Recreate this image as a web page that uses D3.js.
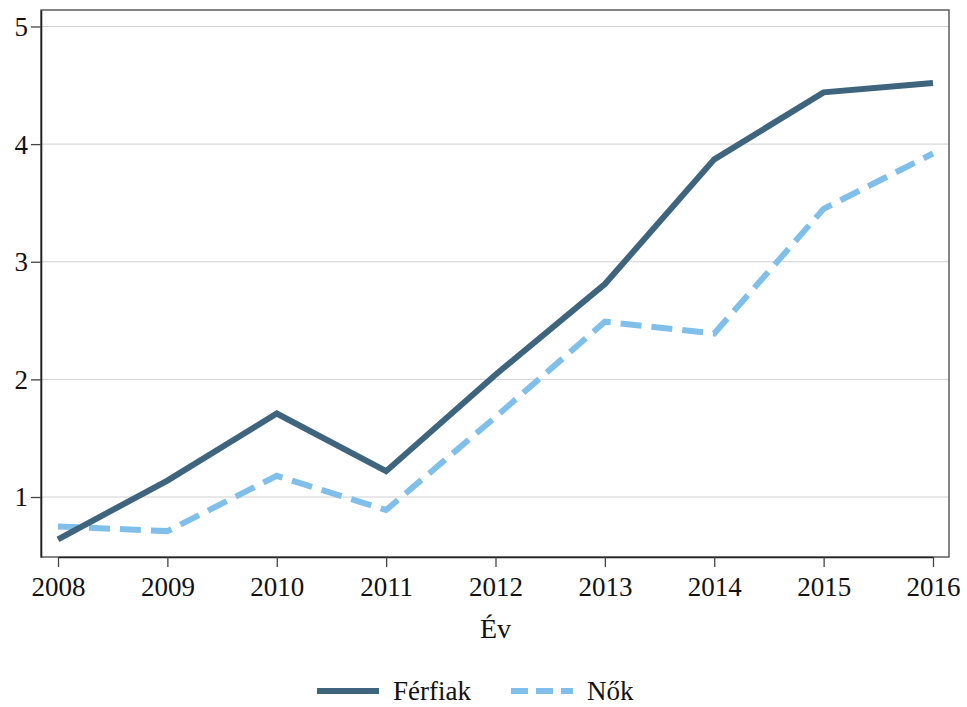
<!DOCTYPE html>
<html>
<head>
<meta charset="utf-8">
<script src="https://cdnjs.cloudflare.com/ajax/libs/d3/7.8.5/d3.min.js"></script>
<style>
  body { margin: 0; background: #fff; }
  svg text { font-family: "Liberation Serif", "Times New Roman", Times, serif; fill: #111; }
</style>
</head>
<body>
<div id="chart"></div>
<script>
// data
var years = [2008, 2009, 2010, 2011, 2012, 2013, 2014, 2015, 2016];
var ferfiak = [0.64, 1.14, 1.71, 1.22, 2.04, 2.81, 3.87, 4.44, 4.52];
var nok = [0.75, 0.71, 1.18, 0.89, 1.68, 2.49, 2.39, 3.45, 3.92];
var yTicks = [1, 2, 3, 4, 5];

var W = 967, H = 707;
var margin = { top: 10, right: 18, bottom: 150, left: 41 };
var width = W - margin.left - margin.right,
    height = 557 - margin.top;
var serif = "'Liberation Serif', 'Times New Roman', Times, serif";

var svg = d3.select("#chart").append("svg")
    .attr("width", W).attr("height", H);
var g = svg.append("g")
    .attr("transform", "translate(" + margin.left + "," + margin.top + ")");

var x = d3.scaleLinear().domain([2008, 2016]).range([17, 892]);
var y = d3.scaleLinear().domain([0.49, 5.14]).range([height, 0]);

// grid
g.selectAll(".grid").data(yTicks).enter().append("line")
    .attr("x1", 0).attr("x2", width)
    .attr("y1", d => y(d)).attr("y2", d => y(d))
    .attr("stroke", "#d0d0d0").attr("stroke-width", 1);

// frame
g.append("rect").attr("width", width).attr("height", height)
    .attr("fill", "none").attr("stroke", "#444").attr("stroke-width", 1.3);

// axes
var xAxis = g.append("g").attr("transform", "translate(0," + height + ")")
    .call(d3.axisBottom(x).tickValues(years).tickFormat(d3.format("d")).tickSize(10).tickSizeOuter(0));
var yAxis = g.append("g")
    .call(d3.axisLeft(y).tickValues(yTicks).tickFormat(d3.format("d")).tickSize(10).tickSizeOuter(0));
[xAxis, yAxis].forEach(function (a) {
  a.attr("font-family", null).attr("font-size", null);
  a.select(".domain").attr("stroke", "#222").attr("stroke-width", 1.6);
  a.selectAll(".tick line").attr("stroke", "#444").attr("stroke-width", 1.3);
  a.selectAll(".tick text").style("font-size", "27px").style("font-family", serif).attr("fill", "#111");
});
xAxis.selectAll(".tick text").attr("dy", "0.98em");
yAxis.selectAll(".tick text").attr("dy", "0.33em");

// axis title
g.append("text").attr("x", (x(2008) + x(2016)) / 2).attr("y", height + 81)
    .attr("text-anchor", "middle").style("font-size", "28px").style("font-family", serif).text("Év");

var line = d3.line().x((d, i) => x(years[i])).y(d => y(d));

g.append("path").datum(nok).attr("d", line)
    .attr("fill", "none").attr("stroke", "#80bfe9").attr("stroke-width", 6)
    .attr("stroke-dasharray", "21,10");
g.append("path").datum(ferfiak).attr("d", line)
    .attr("fill", "none").attr("stroke", "#3e647e").attr("stroke-width", 6);

// legend
var legend = svg.append("g");
var items = [
  { name: "Férfiak", color: "#3e647e", dash: null, x: 317 },
  { name: "Nők", color: "#80bfe9", dash: "17,8", x: 511 }
];
items.forEach(function (it) {
  legend.append("line").attr("x1", it.x).attr("x2", it.x + 62)
    .attr("y1", 691).attr("y2", 691)
    .attr("stroke", it.color).attr("stroke-width", 6)
    .attr("stroke-dasharray", it.dash);
  legend.append("text").attr("x", it.x + 76).attr("y", 700)
    .style("font-size", "27px").style("font-family", serif).text(it.name);
});
</script>
</body>
</html>
